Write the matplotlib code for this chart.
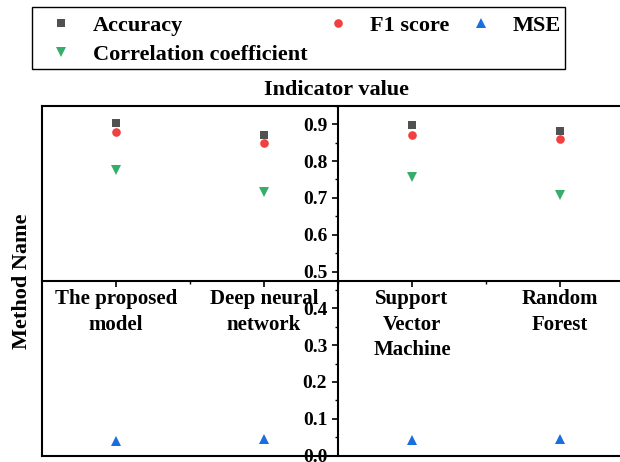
import matplotlib
matplotlib.use("Agg")
import matplotlib.pyplot as plt
from matplotlib.ticker import FixedLocator, MultipleLocator, FormatStrFormatter
from matplotlib.patches import Rectangle
import numpy as np

plt.rcParams['font.family'] = ['Liberation Serif', 'DejaVu Serif']
plt.rcParams['font.weight'] = 'bold'

categories = ["The proposed\nmodel", "Deep neural\nnetwork", "Support\nVector\nMachine", "Random\nForest"]
accuracy = [0.903, 0.870, 0.898, 0.882]
f1_score = [0.880, 0.850, 0.870, 0.859]
correlation = [0.776, 0.717, 0.757, 0.708]
mse = [0.039, 0.045, 0.041, 0.044]
y_ticks = [0.0, 0.1, 0.2, 0.3, 0.4, 0.5, 0.6, 0.7, 0.8, 0.9]

W, H = 620, 462
fig = plt.figure(figsize=(W / 100, H / 100), dpi=100)
pos = [42 / W, (H - 455.5) / H, 592 / W, 349.6 / H]

frame = fig.add_axes(pos)
frame.set_xticks([]); frame.set_yticks([])
for s in frame.spines.values():
    s.set_linewidth(1.5)
frame.set_zorder(0)

ax = fig.add_axes(pos)
ax.patch.set_alpha(0)
ax.set_zorder(1)
x = np.arange(1, len(categories) + 1)
ax.set_xlim(0.5, 4.5)
ax.set_ylim(0, 0.95)

h1, = ax.plot(x, accuracy, 's', color='#515151', ms=5.8, mew=0, label='Accuracy', clip_on=False)
h2, = ax.plot(x, f1_score, 'o', color='#F14040', ms=6.2, mew=0, label='F1 score', clip_on=False)
h3, = ax.plot(x, mse, '^', color='#1A6FDF', ms=7, mew=0, label='MSE', clip_on=False)
h4, = ax.plot(x, correlation, 'v', color='#37AD6B', ms=7, mew=0, label='Correlation coefficient', clip_on=False)

ax.spines['left'].set_position(('data', 2.5))
ax.spines['bottom'].set_position(('data', 0.475))
ax.spines['top'].set_visible(False)
ax.spines['right'].set_visible(False)
for s in ['left', 'bottom']:
    ax.spines[s].set_linewidth(1.5)

ax.set_xticks(x)
ax.set_xticklabels(categories, fontsize=15, fontweight='bold', linespacing=1.35)
ax.xaxis.set_minor_locator(FixedLocator([1.5, 2.5, 3.5]))
ax.set_yticks(y_ticks)
ax.yaxis.set_major_formatter(FormatStrFormatter('%.1f'))
ax.yaxis.set_minor_locator(MultipleLocator(0.05))
for lab in ax.get_yticklabels():
    lab.set_fontsize(14); lab.set_fontweight('bold')
ax.tick_params(axis='both', which='major', direction='out', length=4.3, width=1.2, pad=2)
ax.tick_params(axis='both', which='minor', direction='out', length=2.3, width=1.0)
ax.tick_params(axis='y', which='major', pad=3.5)

fig.text(337 / W, 1 - 90 / H, 'Indicator value', ha='center', va='center', fontsize=16, fontweight='bold')
fig.text(22 / W, 1 - 281 / H, 'Method Name', ha='center', va='center', rotation=90, fontsize=16, fontweight='bold')

leg = fig.legend(handles=[h1, h4, h2, h3], ncol=3, loc='upper left',
                 bbox_to_anchor=(49.6 / W, 1 - 15.5 / H), borderaxespad=0, borderpad=0,
                 frameon=False, prop={'family': 'Liberation Serif', 'weight': 'bold', 'size': 16},
                 handlelength=1.0, handletextpad=0.94, columnspacing=0.9, labelspacing=0.36)
fig.patches.append(Rectangle((31.7 / W, 1 - 69 / H), (565 - 31.7) / W, (69 - 7.3) / H,
                             transform=fig.transFigure, fill=False, edgecolor='black', linewidth=1.0))

fig.savefig('out.png', dpi=100)
